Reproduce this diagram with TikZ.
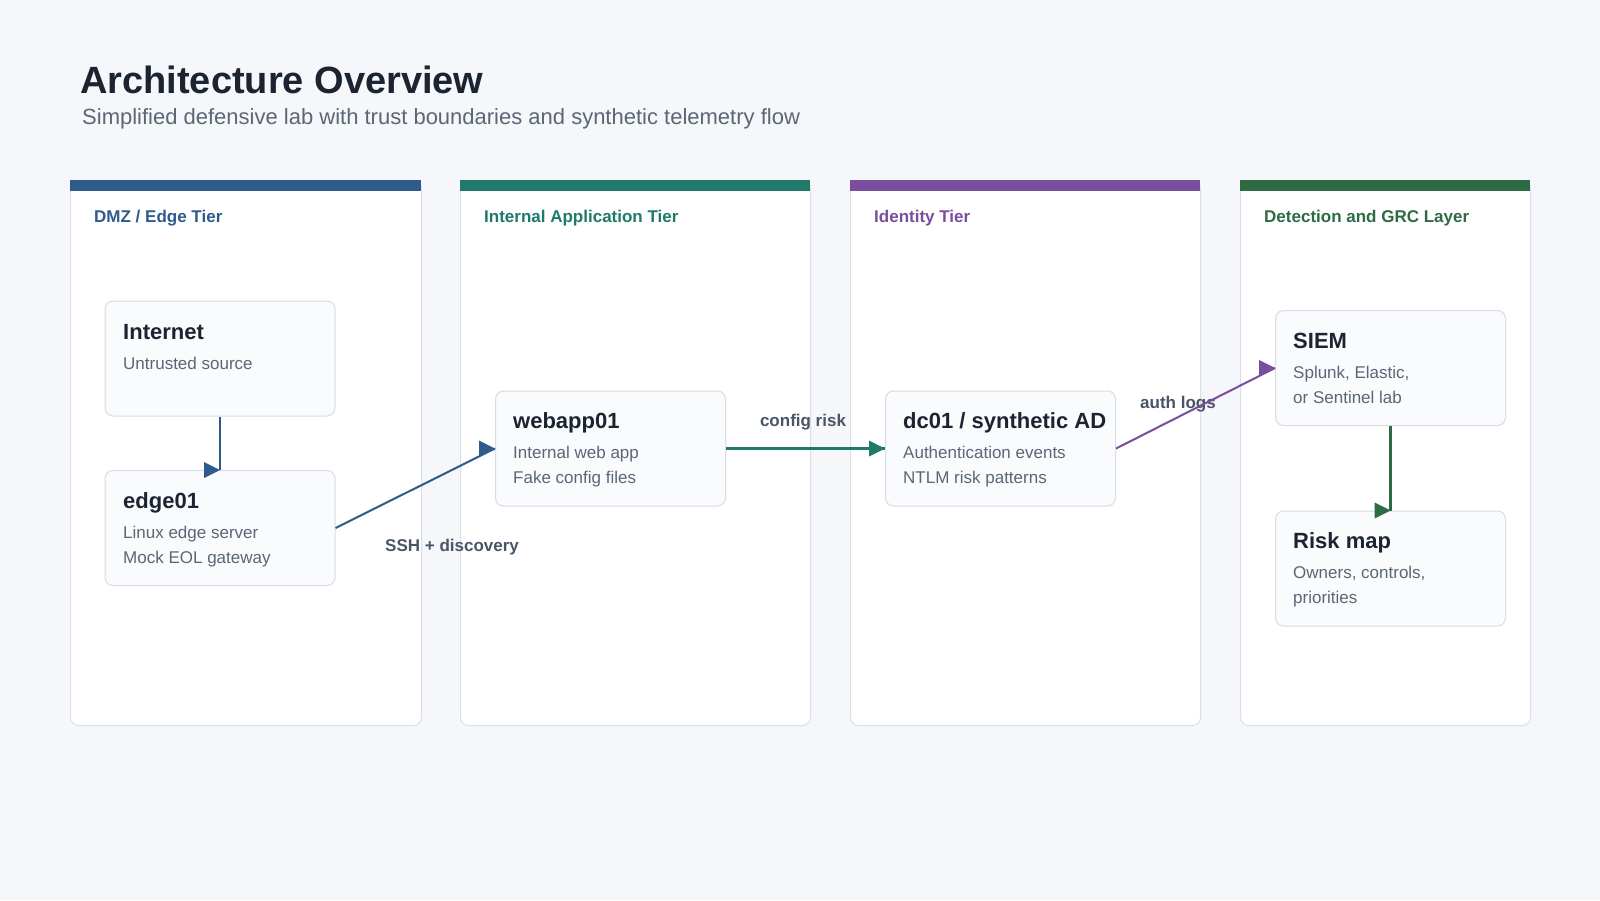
\documentclass[tikz,border=0pt]{standalone}
\usepackage{fontspec}
\setmainfont{Liberation Sans}
\definecolor{bg}{HTML}{F5F7FA}
\definecolor{ink}{HTML}{1B2430}
\definecolor{subc}{HTML}{5B6676}
\definecolor{lbl}{HTML}{4A5568}
\definecolor{nfill}{HTML}{F9FBFD}
\definecolor{nline}{HTML}{D6DDE7}
\definecolor{pline}{HTML}{D9E0EA}
\definecolor{cblue}{HTML}{2F5B8C}
\definecolor{cteal}{HTML}{1F7A6C}
\definecolor{cpurple}{HTML}{7A4E9E}
\definecolor{cgreen}{HTML}{2E6B45}
\newcommand\rtip[2]{\fill[#1] (#2) -- ++(-16,-8) -- ++(0,16) -- cycle;}
\begin{document}
\begin{tikzpicture}[x=1pt,y=-1pt,
 panel/.style={draw=pline, fill=white, rounded corners=8pt, line width=1pt, minimum height=545pt, anchor=north west, inner sep=0pt},
 nodebox/.style={draw=nline, fill=nfill, rounded corners=8pt, line width=1pt, minimum width=230pt, minimum height=115pt, inner sep=0pt},
 ttl/.style={font=\fontsize{22}{26}\selectfont\bfseries, text=ink, anchor=base west, inner sep=0pt},
 subtxt/.style={font=\fontsize{17}{20}\selectfont, text=subc, anchor=base west, inner sep=0pt},
 ptitle/.style={font=\fontsize{17}{20}\selectfont\bfseries, anchor=base west, inner sep=0pt},
 elabel/.style={font=\fontsize{17}{20}\selectfont\bfseries, text=lbl, inner sep=0pt},
 conn/.style={line width=2.6pt},
 diag/.style={line width=2pt},
]
\fill[bg] (0,0) rectangle (1600,900);
\useasboundingbox (0,0) rectangle (1600,900);

\node[font=\fontsize{38}{44}\selectfont\bfseries, text=ink, anchor=base west, inner sep=0pt] (title) at (80,93) {Architecture Overview};
\node[font=\fontsize{22}{26}\selectfont, text=subc, anchor=base west, inner sep=0pt] (subtitle) at (82,124) {Simplified defensive lab with trust boundaries and synthetic telemetry flow};

% panels
\node[panel, minimum width=351pt] (p1) at (70,180) {};
\node[panel, minimum width=350pt] (p2) at (460,180) {};
\node[panel, minimum width=350pt] (p3) at (850,180) {};
\node[panel, minimum width=290pt] (p4) at (1240,180) {};
\fill[cblue] (p1.north west) rectangle ++(351,11);
\fill[cteal] (p2.north west) rectangle ++(350,11);
\fill[cpurple] (p3.north west) rectangle ++(350,11);
\fill[cgreen] (p4.north west) rectangle ++(290,11);
\node[ptitle, text=cblue] (p1t) at (94,222) {DMZ / Edge Tier};
\node[ptitle, text=cteal] (p2t) at (484,222) {Internal Application Tier};
\node[ptitle, text=cpurple] (p3t) at (874,222) {Identity Tier};
\node[ptitle, text=cgreen] (p4t) at (1264,222) {Detection and GRC Layer};

% nodes
\node[nodebox] (internet) at (220,358.5) {};
\node[nodebox] (edge) at (220,528) {};
\node[nodebox] (webapp) at (610.5,448.5) {};
\node[nodebox] (dc) at (1000.5,448.5) {};
\node[nodebox] (siem) at (1390.5,368) {};
\node[nodebox] (risk) at (1390.5,568.5) {};

\node[ttl] (internet-t) at (123,339) {Internet};
\node[subtxt] (internet-s) at (123,369) {Untrusted source};

\node[ttl] (edge-t) at (123,508) {edge01};
\node[subtxt] (edge-s1) at (123,538) {Linux edge server};
\node[subtxt] (edge-s2) at (123,563) {Mock EOL gateway};

\node[ttl] (webapp-t) at (513,428) {webapp01};
\node[subtxt] (webapp-s1) at (513,458) {Internal web app};
\node[subtxt] (webapp-s2) at (513,483) {Fake config files};

\node[ttl] (dc-t) at (903,428) {dc01 / synthetic AD};
\node[subtxt] (dc-s1) at (903,458) {Authentication events};
\node[subtxt] (dc-s2) at (903,483) {NTLM risk patterns};

\node[ttl] (siem-t) at (1293,348) {SIEM};
\node[subtxt] (siem-s1) at (1293,378) {Splunk, Elastic,};
\node[subtxt] (siem-s2) at (1293,403) {or Sentinel lab};

\node[ttl] (risk-t) at (1293,548) {Risk map};
\node[subtxt] (risk-s1) at (1293,578) {Owners, controls,};
\node[subtxt] (risk-s2) at (1293,603) {priorities};

% edge labels
\node[elabel, anchor=base west] (l1) at (385,551) {SSH + discovery};
\node[elabel, anchor=base] (l2) at (803,426) {config risk};
\node[elabel, anchor=base west] (l3) at (1140,408) {auth logs};

% connectors
\draw[conn, cblue] (internet.south) -- (edge.north);
\rtip{cblue}{edge.north}
\draw[diag, cblue] (edge.east) -- (webapp.west);
\rtip{cblue}{webapp.west}
\draw[conn, cteal] (webapp.east) -- (dc.west);
\rtip{cteal}{dc.west}
\draw[diag, cpurple] (dc.east) -- (siem.west);
\rtip{cpurple}{siem.west}
\draw[conn, cgreen] (siem.south) -- (risk.north);
\rtip{cgreen}{risk.north}
\end{tikzpicture}
\end{document}
